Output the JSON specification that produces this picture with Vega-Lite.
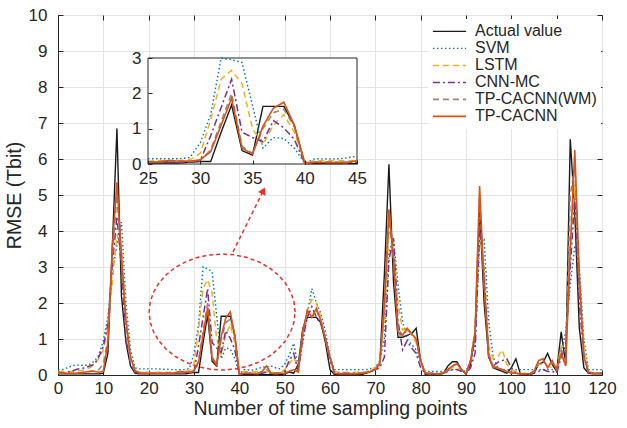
{
  "$schema": "https://vega.github.io/schema/vega-lite/v6.json",
  "width": 544,
  "height": 360,
  "autosize": {"type": "none"},
  "padding": {"left": 58, "top": 15, "right": 25, "bottom": 53},
  "background": "white",
  "config": {
    "font": "Liberation Sans",
    "view": {"stroke": "#262626", "strokeWidth": 1},
    "axis": {
      "labelFont": "Liberation Sans",
      "titleFont": "Liberation Sans",
      "labelColor": "#262626",
      "titleColor": "#262626",
      "titleFontWeight": "normal",
      "domainColor": "#262626",
      "tickColor": "#262626",
      "labelFontSize": 17,
      "titleFontSize": 19.5,
      "gridColor": "#e3e3e3",
      "gridWidth": 1,
      "labelOverlap": false
    }
  },
  "datasets": {
    "rmse": [
      {"x":0,"Actual value":0.03,"SVM":0.15,"LSTM":0.1,"CNN-MC":0.05,"TP-CACNN(WM)":0.05,"TP-CACNN":0.08},
      {"x":1,"Actual value":0.03,"SVM":0.15,"LSTM":0.1,"CNN-MC":0.05,"TP-CACNN(WM)":0.05,"TP-CACNN":0.06},
      {"x":2,"Actual value":0.03,"SVM":0.2,"LSTM":0.1,"CNN-MC":0.08,"TP-CACNN(WM)":0.05,"TP-CACNN":0.05},
      {"x":3,"Actual value":0.03,"SVM":0.25,"LSTM":0.1,"CNN-MC":0.1,"TP-CACNN(WM)":0.05,"TP-CACNN":0.05},
      {"x":4,"Actual value":0.03,"SVM":0.28,"LSTM":0.12,"CNN-MC":0.15,"TP-CACNN(WM)":0.06,"TP-CACNN":0.05},
      {"x":5,"Actual value":0.03,"SVM":0.27,"LSTM":0.12,"CNN-MC":0.18,"TP-CACNN(WM)":0.06,"TP-CACNN":0.06},
      {"x":6,"Actual value":0.03,"SVM":0.27,"LSTM":0.15,"CNN-MC":0.2,"TP-CACNN(WM)":0.08,"TP-CACNN":0.08},
      {"x":7,"Actual value":0.03,"SVM":0.3,"LSTM":0.2,"CNN-MC":0.25,"TP-CACNN(WM)":0.1,"TP-CACNN":0.1},
      {"x":8,"Actual value":0.03,"SVM":0.38,"LSTM":0.3,"CNN-MC":0.3,"TP-CACNN(WM)":0.12,"TP-CACNN":0.1},
      {"x":9,"Actual value":0.03,"SVM":0.55,"LSTM":0.45,"CNN-MC":0.5,"TP-CACNN(WM)":0.15,"TP-CACNN":0.08},
      {"x":10,"Actual value":0.05,"SVM":0.95,"LSTM":0.7,"CNN-MC":0.8,"TP-CACNN(WM)":0.3,"TP-CACNN":0.1},
      {"x":11,"Actual value":0.6,"SVM":1.6,"LSTM":1.3,"CNN-MC":1.4,"TP-CACNN(WM)":1.0,"TP-CACNN":0.9},
      {"x":12,"Actual value":3.6,"SVM":2.9,"LSTM":2.6,"CNN-MC":3.1,"TP-CACNN(WM)":3.3,"TP-CACNN":3.6},
      {"x":13,"Actual value":6.85,"SVM":3.6,"LSTM":3.9,"CNN-MC":4.4,"TP-CACNN(WM)":5.0,"TP-CACNN":5.35},
      {"x":14,"Actual value":2.2,"SVM":4.25,"LSTM":3.6,"CNN-MC":3.0,"TP-CACNN(WM)":3.2,"TP-CACNN":3.3},
      {"x":15,"Actual value":0.9,"SVM":2.0,"LSTM":1.6,"CNN-MC":1.0,"TP-CACNN(WM)":1.3,"TP-CACNN":1.5},
      {"x":16,"Actual value":0.25,"SVM":0.7,"LSTM":0.5,"CNN-MC":0.3,"TP-CACNN(WM)":0.4,"TP-CACNN":0.5},
      {"x":17,"Actual value":0.05,"SVM":0.2,"LSTM":0.12,"CNN-MC":0.08,"TP-CACNN(WM)":0.1,"TP-CACNN":0.12},
      {"x":18,"Actual value":0.03,"SVM":0.17,"LSTM":0.08,"CNN-MC":0.05,"TP-CACNN(WM)":0.05,"TP-CACNN":0.06},
      {"x":19,"Actual value":0.03,"SVM":0.17,"LSTM":0.08,"CNN-MC":0.05,"TP-CACNN(WM)":0.05,"TP-CACNN":0.05},
      {"x":20,"Actual value":0.03,"SVM":0.17,"LSTM":0.08,"CNN-MC":0.05,"TP-CACNN(WM)":0.05,"TP-CACNN":0.05},
      {"x":21,"Actual value":0.03,"SVM":0.17,"LSTM":0.08,"CNN-MC":0.05,"TP-CACNN(WM)":0.05,"TP-CACNN":0.05},
      {"x":22,"Actual value":0.03,"SVM":0.17,"LSTM":0.08,"CNN-MC":0.05,"TP-CACNN(WM)":0.05,"TP-CACNN":0.05},
      {"x":23,"Actual value":0.03,"SVM":0.16,"LSTM":0.08,"CNN-MC":0.05,"TP-CACNN(WM)":0.05,"TP-CACNN":0.05},
      {"x":24,"Actual value":0.03,"SVM":0.16,"LSTM":0.08,"CNN-MC":0.05,"TP-CACNN(WM)":0.05,"TP-CACNN":0.05},
      {"x":25,"Actual value":0.03,"SVM":0.15,"LSTM":0.08,"CNN-MC":0.05,"TP-CACNN(WM)":0.05,"TP-CACNN":0.05},
      {"x":26,"Actual value":0.03,"SVM":0.15,"LSTM":0.1,"CNN-MC":0.06,"TP-CACNN(WM)":0.06,"TP-CACNN":0.06},
      {"x":27,"Actual value":0.03,"SVM":0.15,"LSTM":0.1,"CNN-MC":0.07,"TP-CACNN(WM)":0.08,"TP-CACNN":0.1},
      {"x":28,"Actual value":0.03,"SVM":0.15,"LSTM":0.1,"CNN-MC":0.06,"TP-CACNN(WM)":0.07,"TP-CACNN":0.08},
      {"x":29,"Actual value":0.05,"SVM":0.18,"LSTM":0.12,"CNN-MC":0.05,"TP-CACNN(WM)":0.07,"TP-CACNN":0.08},
      {"x":30,"Actual value":0.07,"SVM":0.6,"LSTM":0.3,"CNN-MC":0.1,"TP-CACNN(WM)":0.1,"TP-CACNN":0.12},
      {"x":31,"Actual value":0.07,"SVM":1.4,"LSTM":1.25,"CNN-MC":0.8,"TP-CACNN(WM)":0.4,"TP-CACNN":0.35},
      {"x":32,"Actual value":0.9,"SVM":3.0,"LSTM":2.4,"CNN-MC":1.6,"TP-CACNN(WM)":1.2,"TP-CACNN":1.1},
      {"x":33,"Actual value":1.67,"SVM":2.95,"LSTM":2.65,"CNN-MC":2.4,"TP-CACNN(WM)":2.0,"TP-CACNN":1.86},
      {"x":34,"Actual value":0.38,"SVM":2.87,"LSTM":2.27,"CNN-MC":0.9,"TP-CACNN(WM)":0.5,"TP-CACNN":0.45},
      {"x":35,"Actual value":0.25,"SVM":1.65,"LSTM":1.0,"CNN-MC":0.75,"TP-CACNN(WM)":0.3,"TP-CACNN":0.28},
      {"x":36,"Actual value":1.63,"SVM":0.45,"LSTM":0.55,"CNN-MC":0.63,"TP-CACNN(WM)":1.0,"TP-CACNN":1.07},
      {"x":37,"Actual value":1.63,"SVM":0.75,"LSTM":1.1,"CNN-MC":1.23,"TP-CACNN(WM)":1.45,"TP-CACNN":1.58},
      {"x":38,"Actual value":1.63,"SVM":0.72,"LSTM":1.4,"CNN-MC":1.02,"TP-CACNN(WM)":1.55,"TP-CACNN":1.75},
      {"x":39,"Actual value":1.1,"SVM":0.45,"LSTM":0.9,"CNN-MC":0.7,"TP-CACNN(WM)":1.05,"TP-CACNN":1.1},
      {"x":40,"Actual value":0.01,"SVM":0.03,"LSTM":0.05,"CNN-MC":0.02,"TP-CACNN(WM)":0.02,"TP-CACNN":0.02},
      {"x":41,"Actual value":0.01,"SVM":0.15,"LSTM":0.1,"CNN-MC":0.05,"TP-CACNN(WM)":0.05,"TP-CACNN":0.05},
      {"x":42,"Actual value":0.01,"SVM":0.14,"LSTM":0.1,"CNN-MC":0.05,"TP-CACNN(WM)":0.05,"TP-CACNN":0.04},
      {"x":43,"Actual value":0.01,"SVM":0.14,"LSTM":0.1,"CNN-MC":0.05,"TP-CACNN(WM)":0.05,"TP-CACNN":0.04},
      {"x":44,"Actual value":0.01,"SVM":0.17,"LSTM":0.1,"CNN-MC":0.05,"TP-CACNN(WM)":0.05,"TP-CACNN":0.03},
      {"x":45,"Actual value":0.01,"SVM":0.22,"LSTM":0.1,"CNN-MC":0.05,"TP-CACNN(WM)":0.08,"TP-CACNN":0.1},
      {"x":46,"Actual value":0.01,"SVM":0.22,"LSTM":0.08,"CNN-MC":0.08,"TP-CACNN(WM)":0.15,"TP-CACNN":0.25},
      {"x":47,"Actual value":0.01,"SVM":0.25,"LSTM":0.08,"CNN-MC":0.05,"TP-CACNN(WM)":0.05,"TP-CACNN":0.05},
      {"x":48,"Actual value":0.01,"SVM":0.2,"LSTM":0.06,"CNN-MC":0.05,"TP-CACNN(WM)":0.05,"TP-CACNN":0.03},
      {"x":49,"Actual value":0.01,"SVM":0.17,"LSTM":0.06,"CNN-MC":0.05,"TP-CACNN(WM)":0.05,"TP-CACNN":0.05},
      {"x":50,"Actual value":0.03,"SVM":0.3,"LSTM":0.15,"CNN-MC":0.1,"TP-CACNN(WM)":0.05,"TP-CACNN":0.05},
      {"x":51,"Actual value":0.08,"SVM":0.55,"LSTM":0.3,"CNN-MC":0.4,"TP-CACNN(WM)":0.1,"TP-CACNN":0.1},
      {"x":52,"Actual value":0.05,"SVM":0.88,"LSTM":0.5,"CNN-MC":0.6,"TP-CACNN(WM)":0.15,"TP-CACNN":0.15},
      {"x":53,"Actual value":0.3,"SVM":0.2,"LSTM":0.15,"CNN-MC":0.1,"TP-CACNN(WM)":0.1,"TP-CACNN":0.08},
      {"x":54,"Actual value":1.3,"SVM":0.9,"LSTM":1.2,"CNN-MC":1.0,"TP-CACNN(WM)":1.2,"TP-CACNN":1.2},
      {"x":55,"Actual value":1.6,"SVM":1.7,"LSTM":1.8,"CNN-MC":1.6,"TP-CACNN(WM)":1.75,"TP-CACNN":1.8},
      {"x":56,"Actual value":1.6,"SVM":2.4,"LSTM":2.1,"CNN-MC":1.9,"TP-CACNN(WM)":1.6,"TP-CACNN":1.6},
      {"x":57,"Actual value":1.6,"SVM":2.0,"LSTM":2.0,"CNN-MC":1.6,"TP-CACNN(WM)":1.8,"TP-CACNN":1.85},
      {"x":58,"Actual value":1.45,"SVM":1.7,"LSTM":1.6,"CNN-MC":1.4,"TP-CACNN(WM)":1.5,"TP-CACNN":1.5},
      {"x":59,"Actual value":0.9,"SVM":1.2,"LSTM":1.0,"CNN-MC":1.0,"TP-CACNN(WM)":1.0,"TP-CACNN":1.0},
      {"x":60,"Actual value":0.15,"SVM":0.5,"LSTM":0.4,"CNN-MC":0.4,"TP-CACNN(WM)":0.5,"TP-CACNN":0.5},
      {"x":61,"Actual value":0.01,"SVM":0.15,"LSTM":0.1,"CNN-MC":0.05,"TP-CACNN(WM)":0.05,"TP-CACNN":0.05},
      {"x":62,"Actual value":0.01,"SVM":0.15,"LSTM":0.08,"CNN-MC":0.05,"TP-CACNN(WM)":0.05,"TP-CACNN":0.03},
      {"x":63,"Actual value":0.01,"SVM":0.15,"LSTM":0.08,"CNN-MC":0.05,"TP-CACNN(WM)":0.04,"TP-CACNN":0.03},
      {"x":64,"Actual value":0.01,"SVM":0.15,"LSTM":0.08,"CNN-MC":0.05,"TP-CACNN(WM)":0.04,"TP-CACNN":0.03},
      {"x":65,"Actual value":0.01,"SVM":0.15,"LSTM":0.08,"CNN-MC":0.05,"TP-CACNN(WM)":0.04,"TP-CACNN":0.03},
      {"x":66,"Actual value":0.01,"SVM":0.15,"LSTM":0.08,"CNN-MC":0.05,"TP-CACNN(WM)":0.04,"TP-CACNN":0.03},
      {"x":67,"Actual value":0.02,"SVM":0.15,"LSTM":0.08,"CNN-MC":0.05,"TP-CACNN(WM)":0.05,"TP-CACNN":0.05},
      {"x":68,"Actual value":0.05,"SVM":0.15,"LSTM":0.1,"CNN-MC":0.07,"TP-CACNN(WM)":0.08,"TP-CACNN":0.06},
      {"x":69,"Actual value":0.1,"SVM":0.18,"LSTM":0.12,"CNN-MC":0.1,"TP-CACNN(WM)":0.1,"TP-CACNN":0.1},
      {"x":70,"Actual value":0.15,"SVM":0.2,"LSTM":0.2,"CNN-MC":0.15,"TP-CACNN(WM)":0.2,"TP-CACNN":0.15},
      {"x":71,"Actual value":0.35,"SVM":0.4,"LSTM":0.4,"CNN-MC":0.2,"TP-CACNN(WM)":0.35,"TP-CACNN":0.3},
      {"x":72,"Actual value":2.8,"SVM":1.0,"LSTM":1.5,"CNN-MC":0.5,"TP-CACNN(WM)":1.8,"TP-CACNN":2.0},
      {"x":73,"Actual value":5.85,"SVM":3.4,"LSTM":4.0,"CNN-MC":3.2,"TP-CACNN(WM)":4.3,"TP-CACNN":4.6},
      {"x":74,"Actual value":2.6,"SVM":3.8,"LSTM":3.7,"CNN-MC":3.8,"TP-CACNN(WM)":3.2,"TP-CACNN":3.3},
      {"x":75,"Actual value":1.05,"SVM":2.5,"LSTM":2.0,"CNN-MC":1.5,"TP-CACNN(WM)":1.3,"TP-CACNN":1.2},
      {"x":76,"Actual value":1.05,"SVM":1.5,"LSTM":1.25,"CNN-MC":0.7,"TP-CACNN(WM)":1.1,"TP-CACNN":1.1},
      {"x":77,"Actual value":1.1,"SVM":1.0,"LSTM":1.3,"CNN-MC":0.95,"TP-CACNN(WM)":1.25,"TP-CACNN":1.3},
      {"x":78,"Actual value":1.15,"SVM":0.85,"LSTM":1.1,"CNN-MC":0.75,"TP-CACNN(WM)":1.15,"TP-CACNN":1.15},
      {"x":79,"Actual value":1.3,"SVM":0.7,"LSTM":0.9,"CNN-MC":0.6,"TP-CACNN(WM)":1.0,"TP-CACNN":1.0},
      {"x":80,"Actual value":0.4,"SVM":0.35,"LSTM":0.4,"CNN-MC":0.2,"TP-CACNN(WM)":0.4,"TP-CACNN":0.4},
      {"x":81,"Actual value":0.02,"SVM":0.1,"LSTM":0.05,"CNN-MC":0.05,"TP-CACNN(WM)":0.05,"TP-CACNN":0.05},
      {"x":82,"Actual value":0.01,"SVM":0.1,"LSTM":0.05,"CNN-MC":0.05,"TP-CACNN(WM)":0.03,"TP-CACNN":0.03},
      {"x":83,"Actual value":0.01,"SVM":0.1,"LSTM":0.05,"CNN-MC":0.05,"TP-CACNN(WM)":0.03,"TP-CACNN":0.03},
      {"x":84,"Actual value":0.01,"SVM":0.1,"LSTM":0.05,"CNN-MC":0.04,"TP-CACNN(WM)":0.03,"TP-CACNN":0.03},
      {"x":85,"Actual value":0.05,"SVM":0.1,"LSTM":0.08,"CNN-MC":0.05,"TP-CACNN(WM)":0.05,"TP-CACNN":0.05},
      {"x":86,"Actual value":0.25,"SVM":0.12,"LSTM":0.15,"CNN-MC":0.1,"TP-CACNN(WM)":0.15,"TP-CACNN":0.15},
      {"x":87,"Actual value":0.37,"SVM":0.15,"LSTM":0.2,"CNN-MC":0.15,"TP-CACNN(WM)":0.25,"TP-CACNN":0.25},
      {"x":88,"Actual value":0.37,"SVM":0.15,"LSTM":0.2,"CNN-MC":0.15,"TP-CACNN(WM)":0.3,"TP-CACNN":0.32},
      {"x":89,"Actual value":0.15,"SVM":0.12,"LSTM":0.15,"CNN-MC":0.1,"TP-CACNN(WM)":0.15,"TP-CACNN":0.15},
      {"x":90,"Actual value":0.02,"SVM":0.1,"LSTM":0.05,"CNN-MC":0.05,"TP-CACNN(WM)":0.03,"TP-CACNN":0.03},
      {"x":91,"Actual value":0.3,"SVM":0.4,"LSTM":0.4,"CNN-MC":0.2,"TP-CACNN(WM)":0.4,"TP-CACNN":0.4},
      {"x":92,"Actual value":1.1,"SVM":0.9,"LSTM":1.2,"CNN-MC":0.6,"TP-CACNN(WM)":1.2,"TP-CACNN":1.2},
      {"x":93,"Actual value":4.7,"SVM":3.6,"LSTM":3.9,"CNN-MC":4.1,"TP-CACNN(WM)":4.9,"TP-CACNN":5.25},
      {"x":94,"Actual value":2.0,"SVM":3.75,"LSTM":3.0,"CNN-MC":2.8,"TP-CACNN(WM)":2.5,"TP-CACNN":2.5},
      {"x":95,"Actual value":0.5,"SVM":1.5,"LSTM":0.8,"CNN-MC":0.5,"TP-CACNN(WM)":0.6,"TP-CACNN":0.55},
      {"x":96,"Actual value":0.2,"SVM":0.5,"LSTM":0.45,"CNN-MC":0.25,"TP-CACNN(WM)":0.25,"TP-CACNN":0.2},
      {"x":97,"Actual value":0.15,"SVM":0.2,"LSTM":0.5,"CNN-MC":0.35,"TP-CACNN(WM)":0.2,"TP-CACNN":0.2},
      {"x":98,"Actual value":0.1,"SVM":0.15,"LSTM":0.7,"CNN-MC":0.4,"TP-CACNN(WM)":0.15,"TP-CACNN":0.15},
      {"x":99,"Actual value":0.05,"SVM":0.15,"LSTM":0.3,"CNN-MC":0.45,"TP-CACNN(WM)":0.1,"TP-CACNN":0.1},
      {"x":100,"Actual value":0.2,"SVM":0.15,"LSTM":0.15,"CNN-MC":0.2,"TP-CACNN(WM)":0.08,"TP-CACNN":0.05},
      {"x":101,"Actual value":0.45,"SVM":0.15,"LSTM":0.1,"CNN-MC":0.05,"TP-CACNN(WM)":0.05,"TP-CACNN":0.05},
      {"x":102,"Actual value":0.03,"SVM":0.15,"LSTM":0.05,"CNN-MC":0.03,"TP-CACNN(WM)":0.03,"TP-CACNN":0.03},
      {"x":103,"Actual value":0.01,"SVM":0.15,"LSTM":0.05,"CNN-MC":0.03,"TP-CACNN(WM)":0.03,"TP-CACNN":0.03},
      {"x":104,"Actual value":0.01,"SVM":0.15,"LSTM":0.05,"CNN-MC":0.03,"TP-CACNN(WM)":0.03,"TP-CACNN":0.03},
      {"x":105,"Actual value":0.05,"SVM":0.15,"LSTM":0.1,"CNN-MC":0.05,"TP-CACNN(WM)":0.1,"TP-CACNN":0.1},
      {"x":106,"Actual value":0.3,"SVM":0.15,"LSTM":0.3,"CNN-MC":0.1,"TP-CACNN(WM)":0.35,"TP-CACNN":0.4},
      {"x":107,"Actual value":0.35,"SVM":0.15,"LSTM":0.3,"CNN-MC":0.15,"TP-CACNN(WM)":0.4,"TP-CACNN":0.45},
      {"x":108,"Actual value":0.6,"SVM":0.15,"LSTM":0.25,"CNN-MC":0.1,"TP-CACNN(WM)":0.25,"TP-CACNN":0.2},
      {"x":109,"Actual value":0.3,"SVM":0.15,"LSTM":0.2,"CNN-MC":0.1,"TP-CACNN(WM)":0.35,"TP-CACNN":0.4},
      {"x":110,"Actual value":0.1,"SVM":0.15,"LSTM":0.2,"CNN-MC":0.05,"TP-CACNN(WM)":0.15,"TP-CACNN":0.15},
      {"x":111,"Actual value":1.2,"SVM":0.6,"LSTM":0.8,"CNN-MC":0.5,"TP-CACNN(WM)":0.7,"TP-CACNN":0.6},
      {"x":112,"Actual value":0.3,"SVM":1.2,"LSTM":0.8,"CNN-MC":0.8,"TP-CACNN(WM)":0.3,"TP-CACNN":0.25},
      {"x":113,"Actual value":6.55,"SVM":2.5,"LSTM":3.5,"CNN-MC":3.0,"TP-CACNN(WM)":5.0,"TP-CACNN":3.5},
      {"x":114,"Actual value":4.5,"SVM":3.6,"LSTM":5.3,"CNN-MC":4.9,"TP-CACNN(WM)":5.8,"TP-CACNN":6.25},
      {"x":115,"Actual value":1.3,"SVM":3.0,"LSTM":2.5,"CNN-MC":2.0,"TP-CACNN(WM)":2.5,"TP-CACNN":2.8},
      {"x":116,"Actual value":0.2,"SVM":1.0,"LSTM":0.8,"CNN-MC":0.5,"TP-CACNN(WM)":0.6,"TP-CACNN":0.5},
      {"x":117,"Actual value":0.05,"SVM":0.15,"LSTM":0.1,"CNN-MC":0.05,"TP-CACNN(WM)":0.08,"TP-CACNN":0.08},
      {"x":118,"Actual value":0.03,"SVM":0.15,"LSTM":0.05,"CNN-MC":0.05,"TP-CACNN(WM)":0.05,"TP-CACNN":0.05},
      {"x":119,"Actual value":0.03,"SVM":0.15,"LSTM":0.05,"CNN-MC":0.05,"TP-CACNN(WM)":0.05,"TP-CACNN":0.05},
      {"x":120,"Actual value":0.03,"SVM":0.15,"LSTM":0.05,"CNN-MC":0.05,"TP-CACNN(WM)":0.05,"TP-CACNN":0.05}
    ],
    "ellipse": [
      {"i":0,"x":52.3,"value":1.75},{"i":1,"x":52.06,"value":2.03},{"i":2,"x":51.33,"value":2.3},
      {"i":3,"x":50.14,"value":2.555},{"i":4,"x":48.53,"value":2.785},{"i":5,"x":46.55,"value":2.983},
      {"i":6,"x":44.25,"value":3.144},{"i":7,"x":41.71,"value":3.263},{"i":8,"x":39.0,"value":3.336},
      {"i":9,"x":36.2,"value":3.36},{"i":10,"x":33.4,"value":3.336},{"i":11,"x":30.69,"value":3.263},
      {"i":12,"x":28.15,"value":3.144},{"i":13,"x":25.85,"value":2.983},{"i":14,"x":23.87,"value":2.785},
      {"i":15,"x":22.26,"value":2.555},{"i":16,"x":21.07,"value":2.3},{"i":17,"x":20.34,"value":2.03},
      {"i":18,"x":20.1,"value":1.75},{"i":19,"x":20.34,"value":1.47},{"i":20,"x":21.07,"value":1.2},
      {"i":21,"x":22.26,"value":0.945},{"i":22,"x":23.87,"value":0.715},{"i":23,"x":25.85,"value":0.517},
      {"i":24,"x":28.15,"value":0.356},{"i":25,"x":30.69,"value":0.237},{"i":26,"x":33.4,"value":0.164},
      {"i":27,"x":36.2,"value":0.14},{"i":28,"x":39.0,"value":0.164},{"i":29,"x":41.71,"value":0.237},
      {"i":30,"x":44.25,"value":0.356},{"i":31,"x":46.55,"value":0.517},{"i":32,"x":48.53,"value":0.715},
      {"i":33,"x":50.14,"value":0.945},{"i":34,"x":51.33,"value":1.2},{"i":35,"x":52.06,"value":1.47},
      {"i":36,"x":52.3,"value":1.75}
    ],
    "arrow": [
      {"i":0,"x":38.6,"value":3.42},
      {"i":1,"x":45.3,"value":5.12}
    ],
    "frame": [
      {"x":0,"value":0}
    ]
  },
  "layer": [
    {
      "data": {"name": "rmse"},
      "transform": [
        {"fold": ["Actual value","SVM","LSTM","CNN-MC","TP-CACNN(WM)","TP-CACNN"], "as": ["series","value"]}
      ],
      "mark": {"type": "line", "clip": true},
      "encoding": {
        "x": {
          "field": "x", "type": "quantitative",
          "scale": {"domain": [0,120], "nice": false, "zero": false},
          "axis": {
            "orient": "bottom",
            "values": [0,10,20,30,40,50,60,70,80,90,100,110,120],
            "title": "Number of time sampling points",
            "grid": true, "tickSize": -5, "labelPadding": 10, "titlePadding": 3,
            "labelFlush": false, "labelOverlap": false
          }
        },
        "y": {
          "field": "value", "type": "quantitative",
          "scale": {"domain": [0,10], "nice": false},
          "axis": {
            "orient": "left",
            "values": [0,1,2,3,4,5,6,7,8,9,10],
            "title": "RMSE (Tbit)",
            "grid": true, "tickSize": -5, "labelPadding": 16, "titlePadding": 4,
            "labelOverlap": false, "labelFlush": false
          }
        },
        "color": {
          "field": "series", "type": "nominal",
          "scale": {
            "domain": ["Actual value","SVM","LSTM","CNN-MC","TP-CACNN(WM)","TP-CACNN"],
            "range": ["#1a1a1a","#0072BD","#EDB120","#7E2F8E","#A08474","#D95319"]
          },
          "legend": {
            "title": null, "orient": "none", "legendX": 370, "legendY": 4,
            "fillColor": "white", "padding": 4, "symbolType": "stroke", "symbolSize": 1100,
            "clipHeight": 16.8, "rowPadding": 0, "labelFontSize": 16, "labelFont": "Liberation Sans",
            "labelColor": "#262626", "labelOffset": 8
          }
        },
        "strokeDash": {
          "field": "series", "type": "nominal",
          "scale": {
            "domain": ["Actual value","SVM","LSTM","CNN-MC","TP-CACNN(WM)","TP-CACNN"],
            "range": [[1,0],[1.5,2.5],[6,4],[7,3,2,3],[6,4],[1,0]]
          },
          "legend": {
            "title": null, "orient": "none", "legendX": 370, "legendY": 4,
            "fillColor": "white", "padding": 4, "symbolType": "stroke", "symbolSize": 1100,
            "clipHeight": 16.8, "rowPadding": 0, "labelFontSize": 16, "labelFont": "Liberation Sans",
            "labelColor": "#262626", "labelOffset": 8
          }
        },
        "strokeWidth": {
          "field": "series", "type": "ordinal",
          "scale": {
            "domain": ["Actual value","SVM","LSTM","CNN-MC","TP-CACNN(WM)","TP-CACNN"],
            "range": [1.4,1.6,1.5,1.6,1.5,2.2]
          },
          "legend": {
            "title": null, "orient": "none", "legendX": 370, "legendY": 4,
            "fillColor": "white", "padding": 4, "symbolType": "stroke", "symbolSize": 1100,
            "clipHeight": 16.8, "rowPadding": 0, "labelFontSize": 16, "labelFont": "Liberation Sans",
            "labelColor": "#262626", "labelOffset": 8
          }
        }
      }
    },
    {
      "data": {"name": "frame"},
      "mark": {"type": "point", "opacity": 0},
      "encoding": {
        "x": {
          "field": "x", "type": "quantitative",
          "scale": {"domain": [0,120], "nice": false, "zero": false},
          "axis": {
            "orient": "top", "values": [0,10,20,30,40,50,60,70,80,90,100,110,120],
            "labels": false, "title": null, "grid": false, "domain": false, "tickSize": -5
          }
        },
        "y": {
          "field": "value", "type": "quantitative",
          "scale": {"domain": [0,10], "nice": false},
          "axis": {
            "orient": "right", "values": [0,1,2,3,4,5,6,7,8,9,10],
            "labels": false, "title": null, "grid": false, "domain": false, "tickSize": -5
          }
        }
      }
    },
    {
      "data": {"name": "ellipse"},
      "mark": {"type": "line", "color": "#E8302A", "strokeDash": [4,3], "strokeWidth": 1.5},
      "encoding": {
        "x": {"field": "x", "type": "quantitative", "scale": {"domain": [0,120], "nice": false, "zero": false}, "axis": null},
        "y": {"field": "value", "type": "quantitative", "scale": {"domain": [0,10], "nice": false}, "axis": null},
        "order": {"field": "i", "type": "quantitative"}
      }
    },
    {
      "data": {"name": "arrow"},
      "mark": {"type": "line", "color": "#E8302A", "strokeDash": [4,3], "strokeWidth": 1.5},
      "encoding": {
        "x": {"field": "x", "type": "quantitative", "scale": {"domain": [0,120], "nice": false, "zero": false}, "axis": null},
        "y": {"field": "value", "type": "quantitative", "scale": {"domain": [0,10], "nice": false}, "axis": null},
        "order": {"field": "i", "type": "quantitative"}
      }
    },
    {
      "data": {"name": "arrow"},
      "transform": [{"filter": "datum.i == 1"}],
      "mark": {"type": "point", "shape": "triangle-up", "filled": true, "color": "#E8302A", "opacity": 1, "size": 70, "angle": 26},
      "encoding": {
        "x": {"field": "x", "type": "quantitative", "scale": {"domain": [0,120], "nice": false, "zero": false}, "axis": null},
        "y": {"field": "value", "type": "quantitative", "scale": {"domain": [0,10], "nice": false}, "axis": null}
      }
    },
    {
      "data": {"values": [{}]},
      "mark": {"type": "rect", "fill": "white", "stroke": "#262626", "strokeWidth": 1},
      "encoding": {
        "x": {"datum": 25, "type": "quantitative", "scale": {"domain": [25,45], "range": [90, 299], "nice": false, "zero": false}, "axis": null},
        "x2": {"datum": 45},
        "y": {"datum": 0, "type": "quantitative", "scale": {"domain": [0,3], "range": [149, 43], "nice": false}, "axis": null},
        "y2": {"datum": 3}
      }
    },
    {
      "data": {"name": "rmse"},
      "transform": [
        {"filter": {"field": "x", "range": [25, 45]}},
        {"fold": ["Actual value","SVM","LSTM","CNN-MC","TP-CACNN(WM)","TP-CACNN"], "as": ["series","value"]}
      ],
      "mark": {"type": "line", "clip": false},
      "encoding": {
        "x": {
          "field": "x", "type": "quantitative",
          "scale": {"domain": [25,45], "range": [90, 299], "nice": false, "zero": false},
          "axis": {
            "orient": "bottom", "offset": -211, "values": [25,30,35,40,45], "format": "d",
            "title": null, "grid": false, "domain": false, "tickSize": -4, "labelPadding": 10,
            "labelFlush": false, "zindex": 1
          }
        },
        "y": {
          "field": "value", "type": "quantitative",
          "scale": {"domain": [0,3], "range": [149, 43], "nice": false},
          "axis": {
            "orient": "left", "offset": -90, "values": [0,1,2,3], "format": "d",
            "title": null, "grid": false, "domain": false, "tickSize": -4, "labelPadding": 11,
            "zindex": 1
          }
        },
        "color": {"field": "series", "type": "nominal"},
        "strokeDash": {"field": "series", "type": "nominal"},
        "strokeWidth": {"field": "series", "type": "ordinal"}
      }
    }
  ],
  "resolve": {"scale": {"x": "independent", "y": "independent"}}
}
